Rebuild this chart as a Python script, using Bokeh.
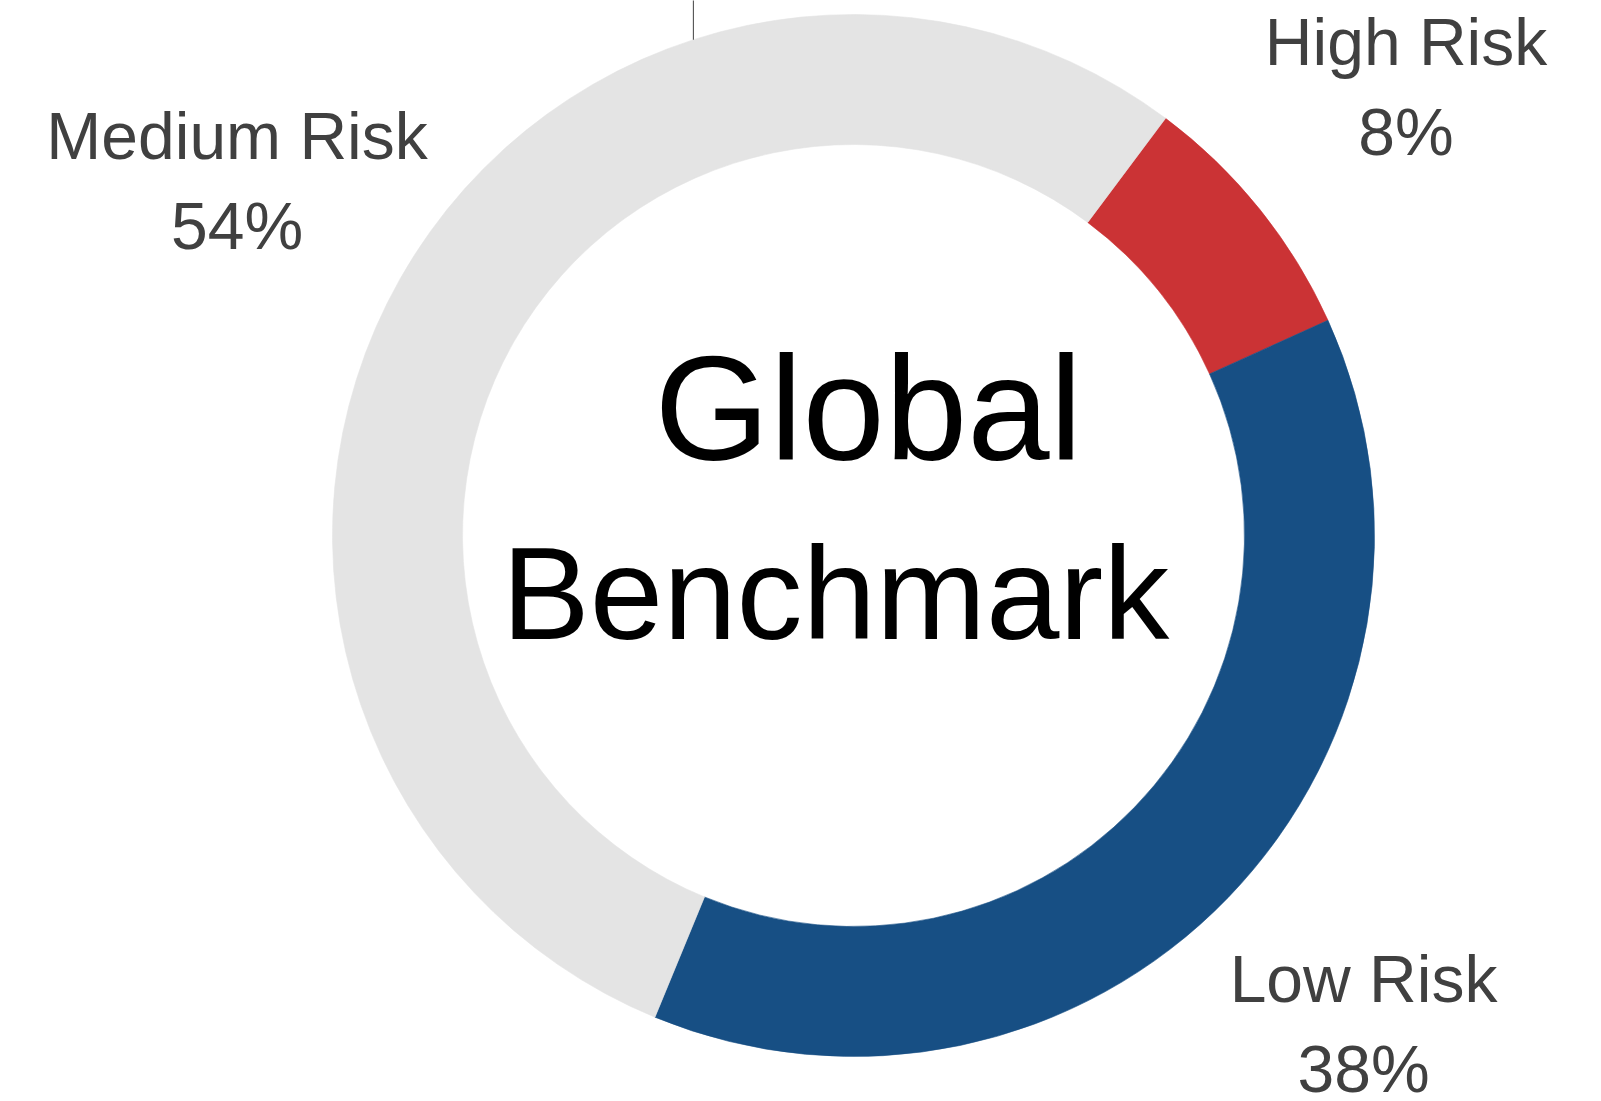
import math
import numpy as np
from bokeh.plotting import figure
from bokeh.models import Range1d, ColumnDataSource
from bokeh.core.properties import value
from bokeh.embed import file_html
from bokeh.resources import INLINE

# ---- data ----
categories = ["High Risk", "Low Risk", "Medium Risk"]
shares = [8, 38, 54]
pct_labels = ["8%", "38%", "54%"]
colors = ["#CB3335", "#174F84", "#E4E4E4"]
center_lines = ["Global", "Benchmark"]

# ---- layout / style ----
W, H = 1593, 1093
CX, CY = 853, 558          # donut centre (data units = screen px)
R_OUT, R_IN = 521, 391
START_CW = 36.8            # degrees clockwise from 12 o'clock where first slice starts
LABEL_DIST = 709
LEADER_CW = -17.9
FONT = value("Liberation Sans")

p = figure(width=W, height=H, output_backend="svg", toolbar_location=None,
           x_range=Range1d(0, W), y_range=Range1d(0, H),
           x_axis_location=None, y_axis_location=None,
           min_border=0, outline_line_color=None, tools="")
p.grid.visible = False
p.background_fill_color = "white"
p.border_fill_color = "white"

frac = np.array(shares, dtype=float) / sum(shares)
cum = np.concatenate([[0], np.cumsum(frac)]) * 360.0
start_cw = START_CW + cum[:-1]
end_cw = START_CW + cum[1:]
mid_cw = (start_cw + end_cw) / 2

src = ColumnDataSource(dict(
    cat=categories, color=colors,
    start=np.radians(90 - start_cw), end=np.radians(90 - end_cw),
))
p.annular_wedge(x=CX, y=CY, inner_radius=R_IN, outer_radius=R_OUT,
                start_angle="start", end_angle="end", direction="clock",
                fill_color="color", line_color="color", line_width=0.6,
                source=src)

# leader line at top
lx = CX + R_OUT * math.sin(math.radians(LEADER_CW))
ly = CY + R_OUT * math.cos(math.radians(LEADER_CW))
p.segment(x0=[lx], y0=[ly], x1=[lx], y1=[H + 10], line_color="#404040", line_width=1)

# slice labels, placed radially at slice mid-angle
bx = CX + LABEL_DIST * np.sin(np.radians(mid_cw))
by = CY + LABEL_DIST * np.cos(np.radians(mid_cw))
lab = ColumnDataSource(dict(x=bx, yn=by + 49.5, yp=by - 40.5,
                            name=categories, pct=pct_labels))
p.text(x="x", y="yn", text="name", source=lab, text_align="center",
       text_baseline="alphabetic", text_font=FONT, text_font_size="66px",
       text_color="#404040")
p.text(x="x", y="yp", text="pct", source=lab, text_align="center",
       text_baseline="alphabetic", text_font=FONT, text_font_size="66px",
       text_color="#404040")

# centre text
p.text(x=[CX + 15], y=[CY + 127], text=[center_lines[0]], text_align="center",
       text_baseline="alphabetic", text_font=FONT, text_font_size="148px",
       text_color="#000000")
p.text(x=[CX - 18], y=[CY - 58], text=[center_lines[1]], text_align="center",
       text_baseline="alphabetic", text_font=FONT, text_font_size="132px",
       text_color="#000000")

open("out.html", "w").write(file_html(p, INLINE))
